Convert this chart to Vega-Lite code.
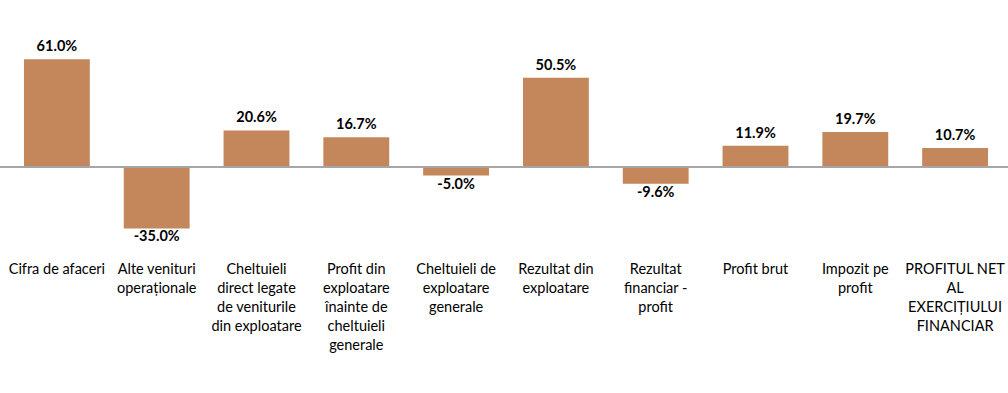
{
  "$schema": "https://vega.github.io/schema/vega-lite/v6.json",
  "width": 1008,
  "height": 250,
  "padding": {"left": 0, "top": 0, "right": 0, "bottom": 143},
  "autosize": {"type": "none"},
  "background": "white",
  "config": {
    "view": {"stroke": null},
    "locale": {"number": {"decimal": ".", "thousands": ",", "grouping": [3], "currency": ["$", ""], "minus": "-"}}
  },
  "data": {"values": [
    {"cat": "Cifra de afaceri", "label": "Cifra de afaceri", "value": 0.610},
    {"cat": "Alte venituri operaționale", "label": "Alte venituri|operaționale", "value": -0.350},
    {"cat": "Cheltuieli direct legate de veniturile din exploatare", "label": "Cheltuieli|direct legate|de veniturile|din exploatare", "value": 0.206},
    {"cat": "Profit din exploatare înainte de cheltuieli generale", "label": "Profit din|exploatare|înainte de|cheltuieli|generale", "value": 0.167},
    {"cat": "Cheltuieli de exploatare generale", "label": "Cheltuieli de|exploatare|generale", "value": -0.050},
    {"cat": "Rezultat din exploatare", "label": "Rezultat din|exploatare", "value": 0.505},
    {"cat": "Rezultat financiar - profit", "label": "Rezultat|financiar -|profit", "value": -0.096},
    {"cat": "Profit brut", "label": "Profit brut", "value": 0.119},
    {"cat": "Impozit pe profit", "label": "Impozit pe|profit", "value": 0.197},
    {"cat": "PROFITUL NET AL EXERCIȚIULUI FINANCIAR", "label": "PROFITUL NET|AL|EXERCIȚIULUI|FINANCIAR", "value": 0.107}
  ]},
  "encoding": {
    "x": {
      "field": "label", "type": "nominal", "sort": null,
      "scale": {"paddingInner": 0.34, "paddingOuter": 0.2, "range": [4, 1008]},
      "axis": {
        "title": null, "domain": false, "ticks": false, "labelAngle": 0,
        "labelPadding": 12, "labelFont": "Lato", "labelFontSize": 14.5,
        "labelColor": "#000000", "labelLimit": 0, "labelOverlap": false,
        "labelLineHeight": 19, "labelBaseline": "top",
        "labelExpr": "split(datum.label, '|')"
      }
    }
  },
  "layer": [
    {
      "mark": {"type": "bar", "color": "#C4875B"},
      "encoding": {
        "y": {"field": "value", "type": "quantitative",
              "scale": {"domain": [-0.472, 0.946], "nice": false, "zero": false},
              "axis": null}
      }
    },
    {
      "mark": {"type": "rule", "color": "#A6A6A6", "strokeWidth": 1.3},
      "encoding": {"y": {"datum": 0, "type": "quantitative"}, "x": {"value": 0}, "x2": {"value": 1008}}
    },
    {
      "transform": [{"filter": "datum.value >= 0"}],
      "mark": {"type": "text", "baseline": "bottom", "dy": -5, "font": "Lato", "fontWeight": "bold", "fontSize": 14.5, "color": "#000000"},
      "encoding": {
        "y": {"field": "value", "type": "quantitative"},
        "text": {"field": "value", "type": "quantitative", "format": ".1%"}
      }
    },
    {
      "transform": [{"filter": "datum.value < 0"}],
      "mark": {"type": "text", "baseline": "top", "dy": 2, "font": "Lato", "fontWeight": "bold", "fontSize": 14.5, "color": "#000000"},
      "encoding": {
        "y": {"field": "value", "type": "quantitative"},
        "text": {"field": "value", "type": "quantitative", "format": ".1%"}
      }
    }
  ]
}
